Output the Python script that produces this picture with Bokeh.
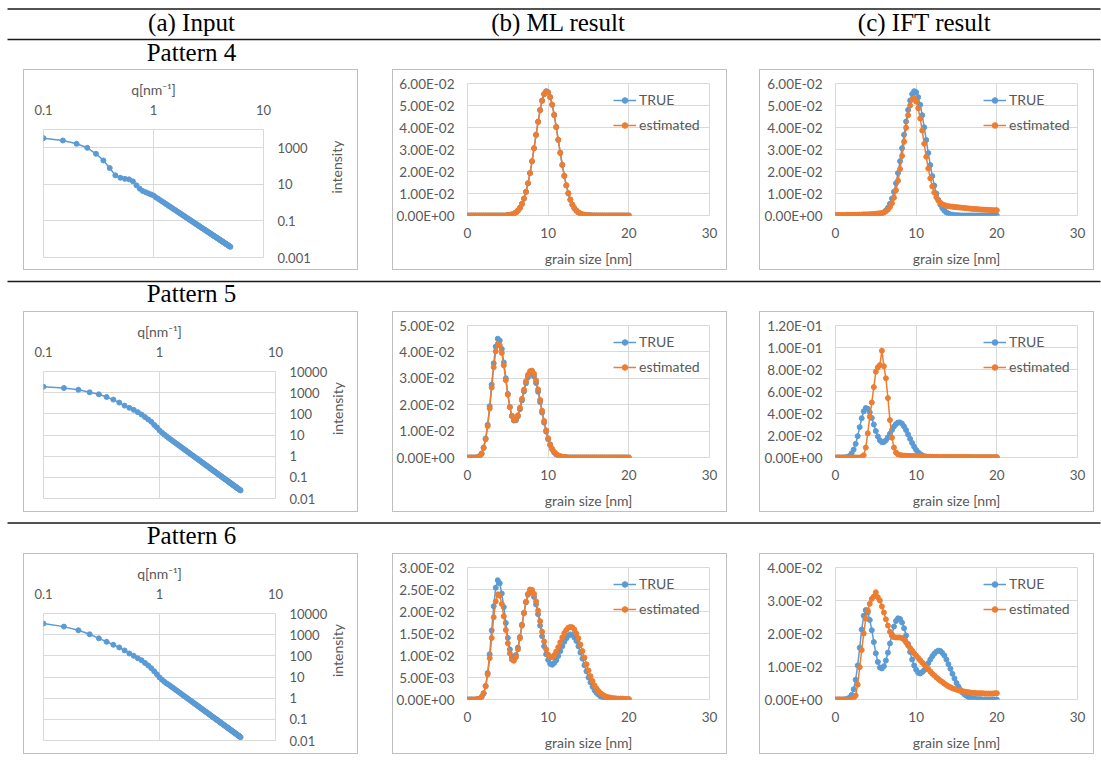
import math
from bokeh.plotting import figure
from bokeh.layouts import column, row
from bokeh.models import (Range1d, FixedTicker, CustomJSTickFormatter, Spacer,
                          Legend, LegendItem)
from bokeh.core.properties import value
from bokeh.embed import file_html
from bokeh.resources import INLINE

# ---------------- data ----------------
COLUMN_TITLES = ["(a) Input", "(b) ML result", "(c) IFT result"]
PATTERN_NAMES = ["Pattern 4", "Pattern 5", "Pattern 6"]
SERIES_NAMES = ["TRUE", "estimated"]

# scattering vector grid q [nm^-1] (0.1 ... 5.0, step 0.05)
Q = [round(0.1 + 0.05 * i, 2) for i in range(99)]
# grain size grid [nm] (0 ... 20, step 0.25)
GRAIN = [0.25 * i for i in range(81)]

Q_TICKS = [0.1, 1, 10]
GRAIN_TICKS = [0, 10, 20, 30]
I_TICKS_4 = [0.001, 0.1, 10, 1000]
I_TICKS_56 = [0.01, 0.1, 1, 10, 100, 1000, 10000]
I_RANGE_4 = (0.001, 10000)
I_RANGE_56 = (0.01, 10000)
D_TICKS_4 = [0, 0.01, 0.02, 0.03, 0.04, 0.05, 0.06]
D_TICKS_5_ML = [0, 0.01, 0.02, 0.03, 0.04, 0.05]
D_TICKS_5_IFT = [0, 0.02, 0.04, 0.06, 0.08, 0.10, 0.12]
D_TICKS_6_ML = [0, 0.005, 0.01, 0.015, 0.02, 0.025, 0.03]
D_TICKS_6_IFT = [0, 0.01, 0.02, 0.03, 0.04]

I4 = [3370, 2510, 1650, 1000, 470, 204, 78, 31, 23, 20, 18.8, 14.6, 8.8, 5.8, 4.3, 3.7, 3.2, 2.8, 2.45,
      1.97, 1.64, 1.37, 1.16, 0.983, 0.840, 0.723, 0.625, 0.543, 0.474,
      0.416, 0.366, 0.324, 0.287, 0.256, 0.229, 0.205, 0.184, 0.166, 0.150,
      0.136, 0.123, 0.112, 0.102, 0.0936, 0.0858, 0.0787, 0.0723, 0.0666, 0.0614,
      0.0568, 0.0525, 0.0487, 0.0452, 0.0420, 0.0390, 0.0364, 0.0339, 0.0317, 0.0296,
      0.0277, 0.0260, 0.0244, 0.0229, 0.0215, 0.0202, 0.0191, 0.0180, 0.0169, 0.0160,
      0.0151, 0.0143, 0.0135, 0.0128, 0.0121, 0.0115, 0.0109, 0.0104, 0.00986, 0.00938,
      0.00892, 0.00849, 0.00809, 0.00771, 0.00736, 0.00702, 0.00670, 0.00640, 0.00612, 0.00585,
      0.00560, 0.00536, 0.00513, 0.00492, 0.00471, 0.00452, 0.00434, 0.00416, 0.00400, 0.00384]

I5 = [1900, 1660, 1380, 1040, 835, 627, 470, 340, 245, 192, 154, 120, 93, 70, 54, 42, 30, 23, 16.5, 13.0, 10.5, 8.7,
      7.23, 6.14, 5.25, 4.52, 3.90, 3.39, 2.96, 2.60, 2.29, 2.02,
      1.80, 1.60, 1.43, 1.28, 1.15, 1.04, 0.938, 0.849, 0.771, 0.702,
      0.640, 0.585, 0.536, 0.492, 0.452, 0.416, 0.384, 0.355, 0.328, 0.304,
      0.282, 0.262, 0.244, 0.227, 0.212, 0.198, 0.185, 0.173, 0.162, 0.152,
      0.143, 0.134, 0.126, 0.119, 0.112, 0.106, 0.100, 0.0944, 0.0893, 0.0845,
      0.0800, 0.0759, 0.0719, 0.0683, 0.0648, 0.0616, 0.0586, 0.0558, 0.0531, 0.0506,
      0.0482, 0.0460, 0.0439, 0.0419, 0.0400, 0.0383, 0.0366, 0.0350, 0.0335, 0.0321,
      0.0307, 0.0295, 0.0283, 0.0271, 0.0260, 0.0250, 0.0240]

I6 = [3330, 2400, 1610, 1040, 670, 463, 333, 250, 180, 129, 100, 77, 62, 46, 35, 26, 18.6, 13.4, 9.6, 7.5, 6.0, 5.0,
      4.34, 3.69, 3.15, 2.71, 2.34, 2.04, 1.78, 1.56, 1.37, 1.21,
      1.08, 0.959, 0.857, 0.768, 0.691, 0.622, 0.563, 0.510, 0.463, 0.421,
      0.384, 0.351, 0.322, 0.295, 0.271, 0.250, 0.230, 0.213, 0.197, 0.183,
      0.169, 0.157, 0.146, 0.136, 0.127, 0.119, 0.111, 0.104, 0.0975, 0.0914,
      0.0858, 0.0807, 0.0759, 0.0715, 0.0673, 0.0635, 0.0600, 0.0567, 0.0536, 0.0507,
      0.0480, 0.0455, 0.0432, 0.0410, 0.0389, 0.0370, 0.0352, 0.0335, 0.0319, 0.0303,
      0.0289, 0.0276, 0.0263, 0.0251, 0.0240, 0.0230, 0.0220, 0.0210, 0.0201, 0.0193,
      0.0184, 0.0177, 0.0170, 0.0163, 0.0156, 0.0150, 0.0144]

TRUE4 = [0.0] * 20 + [
    0.0002, 0.0003, 0.0005, 0.0009, 0.0014, 0.0023, 0.0035, 0.0053, 0.0077, 0.0108,
    0.0147, 0.0193, 0.0247, 0.0306, 0.0367, 0.0427, 0.0480, 0.0523, 0.0552, 0.0565,
    0.0560, 0.0538, 0.0503, 0.0456, 0.0401, 0.0343, 0.0284, 0.0229, 0.0179, 0.0136,
    0.0100, 0.0071, 0.0049, 0.0033, 0.0022, 0.0014, 0.0009, 0.0005, 0.0003, 0.0002,
    0.0001, 0.0001] + [0.0] * 19

ML4 = [0.0] * 20 + [
    0.0002, 0.0003, 0.0005, 0.0008, 0.0013, 0.0022, 0.0034, 0.0052, 0.0076, 0.0107,
    0.0146, 0.0192, 0.0246, 0.0305, 0.0366, 0.0425, 0.0478, 0.0521, 0.0551, 0.0563,
    0.0559, 0.0538, 0.0504, 0.0458, 0.0403, 0.0345, 0.0286, 0.0231, 0.0181, 0.0138,
    0.0102, 0.0073, 0.0050, 0.0034, 0.0022, 0.0014, 0.0009, 0.0005, 0.0003, 0.0002,
    0.0001, 0.0001] + [0.0] * 19

IFT4 = [
    0.0002, 0.0002, 0.0002, 0.0002, 0.0002, 0.0002, 0.0003, 0.0003, 0.0003, 0.0003,
    0.0003, 0.0004, 0.0004, 0.0004, 0.0005, 0.0005, 0.0005, 0.0006, 0.0006, 0.0007,
    0.0008, 0.0009, 0.0010, 0.0011, 0.0014, 0.0019, 0.0027, 0.0039, 0.0056, 0.0081,
    0.0115, 0.0158, 0.0211, 0.0271, 0.0335, 0.0399, 0.0456, 0.0500, 0.0527, 0.0534,
    0.0518, 0.0487, 0.0441, 0.0386, 0.0326, 0.0267, 0.0214, 0.0169, 0.0132, 0.0104,
    0.0083, 0.0068, 0.0058, 0.0051, 0.0047, 0.0044,
    0.0042, 0.0041, 0.0040, 0.0039, 0.0038, 0.0037, 0.0036, 0.0035, 0.0034, 0.0033,
    0.0032, 0.0031, 0.0030, 0.0029, 0.0029, 0.0028, 0.0027, 0.0027, 0.0026, 0.0026,
    0.0025, 0.0025, 0.0024, 0.0024, 0.0024]

TRUE5 = [0.0] * 5 + [
    0.0001, 0.0005, 0.0015, 0.0038, 0.0072, 0.0124, 0.0194, 0.0276, 0.0357, 0.0420,
    0.0450, 0.0443, 0.0411, 0.0360, 0.0300, 0.0241, 0.0191, 0.0157, 0.0140, 0.0141,
    0.0156, 0.0183, 0.0216, 0.0250, 0.0281, 0.0304, 0.0318, 0.0319, 0.0307, 0.0282,
    0.0249, 0.0210, 0.0170, 0.0132, 0.0098, 0.0069, 0.0047, 0.0031, 0.0019, 0.0011,
    0.0007, 0.0004, 0.0002, 0.0001, 0.0001] + [0.0] * 31

ML5 = [0.0] * 5 + [
    0.0001, 0.0005, 0.0014, 0.0036, 0.0069, 0.0119, 0.0186, 0.0265, 0.0342, 0.0402,
    0.0430, 0.0425, 0.0396, 0.0349, 0.0293, 0.0238, 0.0191, 0.0158, 0.0142, 0.0144,
    0.0160, 0.0188, 0.0222, 0.0257, 0.0289, 0.0313, 0.0327, 0.0329, 0.0317, 0.0292,
    0.0258, 0.0218, 0.0177, 0.0138, 0.0103, 0.0073, 0.0050, 0.0033, 0.0021, 0.0013,
    0.0008, 0.0005, 0.0003, 0.0002, 0.0001] + [0.0] * 31

IFT5 = [0.0] * 13 + [
    0.0005, 0.0020, 0.0090, 0.0220, 0.0370, 0.0500, 0.0640, 0.0780, 0.0820, 0.0840,
    0.0970, 0.0830, 0.0720, 0.0540, 0.0340, 0.0180, 0.0090, 0.0045, 0.0028, 0.0022,
    0.0019, 0.0017, 0.0016, 0.0015, 0.0014, 0.0013, 0.0013, 0.0012, 0.0011, 0.0010,
    0.0009, 0.0008, 0.0008, 0.0007, 0.0007, 0.0006,
    0.0006, 0.0006, 0.0005, 0.0005, 0.0005, 0.0005, 0.0005, 0.0005, 0.0004, 0.0004,
    0.0004, 0.0004, 0.0004, 0.0004, 0.0004, 0.0004, 0.0004, 0.0004, 0.0003, 0.0003,
    0.0003, 0.0003, 0.0003, 0.0003, 0.0003, 0.0003, 0.0003, 0.0003, 0.0003, 0.0003,
    0.0003, 0.0003]

TRUE6 = [0.0] * 5 + [
    0.0001, 0.0002, 0.0006, 0.0014, 0.0031, 0.0060, 0.0103, 0.0157, 0.0212, 0.0254,
    0.0271, 0.0264, 0.0241, 0.0210, 0.0174, 0.0140, 0.0114, 0.0097, 0.0094, 0.0101,
    0.0118, 0.0142, 0.0170, 0.0197, 0.0221, 0.0238, 0.0246, 0.0244, 0.0233, 0.0216,
    0.0194, 0.0168, 0.0144, 0.0121, 0.0103, 0.0090, 0.0081, 0.0079, 0.0083, 0.0089,
    0.0099, 0.0110, 0.0121, 0.0131, 0.0139, 0.0145, 0.0148, 0.0147, 0.0141, 0.0133,
    0.0121, 0.0107, 0.0093, 0.0078, 0.0064, 0.0050, 0.0039, 0.0029, 0.0021, 0.0015,
    0.0011, 0.0007, 0.0005, 0.0003, 0.0002, 0.0001, 0.0001, 0.0001] + [0.0] * 8

ML6 = [0.0] * 5 + [
    0.0001, 0.0002, 0.0006, 0.0014, 0.0030, 0.0057, 0.0094, 0.0140, 0.0187, 0.0223,
    0.0239, 0.0236, 0.0217, 0.0189, 0.0158, 0.0128, 0.0105, 0.0091, 0.0088, 0.0096,
    0.0114, 0.0139, 0.0168, 0.0196, 0.0222, 0.0240, 0.0250, 0.0249, 0.0240, 0.0223,
    0.0202, 0.0178, 0.0154, 0.0132, 0.0114, 0.0102, 0.0096, 0.0096, 0.0101, 0.0109,
    0.0119, 0.0130, 0.0141, 0.0151, 0.0158, 0.0163, 0.0165, 0.0164, 0.0159, 0.0150,
    0.0139, 0.0125, 0.0110, 0.0095, 0.0080, 0.0066, 0.0053, 0.0042, 0.0032, 0.0025,
    0.0019, 0.0014, 0.0011, 0.0008, 0.0006, 0.0005, 0.0004, 0.0003,
    0.0003, 0.0002, 0.0002, 0.0002, 0.0002, 0.0001, 0.0001, 0.0001]

IFT6 = [0.0] * 9 + [
    0.0003, 0.0012, 0.0045, 0.0098, 0.0150, 0.0200, 0.0245, 0.0270, 0.0290, 0.0305,
    0.0312, 0.0325, 0.0310, 0.0300, 0.0282, 0.0264, 0.0243, 0.0224, 0.0205, 0.0193,
    0.0189, 0.0188, 0.0188, 0.0188, 0.0186, 0.0181, 0.0173, 0.0164, 0.0156, 0.0148,
    0.0140, 0.0133, 0.0126, 0.0119, 0.0112, 0.0106, 0.0099, 0.0092, 0.0085, 0.0078,
    0.0073, 0.0067, 0.0062, 0.0057, 0.0053, 0.0048, 0.0044, 0.0040, 0.0037, 0.0034,
    0.0032, 0.0030, 0.0028, 0.0026, 0.0025, 0.0024, 0.0023, 0.0022, 0.0021, 0.0020,
    0.0020, 0.0019, 0.0019, 0.0019, 0.0019, 0.0018, 0.0018, 0.0018, 0.0018, 0.0018,
    0.0019, 0.0019]

# ---------------- style ----------------
BLUE = "#5B9BD5"
ORANGE = "#ED7D31"
GRID = "#D9D9D9"
TXT = "#595959"
BOXC = "#BFBFBF"
RULE = "#1a1a1a"
FONT = "Lato"
SERIF = "Liberation Serif"
PAGE_W = 1101
MARK = 5

EXP_FMT = """
const s = tick.toExponential(2);
const parts = s.split('e');
const n = parseInt(parts[1]);
const a = Math.abs(n);
return parts[0] + 'E' + (n < 0 ? '-' : '+') + (a < 10 ? '0' : '') + a;
"""
PLAIN_FMT = "return String(tick);"


def unalign(p):
    if "frame_align" in p.properties():
        p.frame_align = False


def style_axes(p, tick_size):
    p.border_fill_color = None
    p.background_fill_color = None
    p.outline_line_color = GRID
    p.grid.grid_line_color = GRID
    for ax in p.axis:
        ax.axis_line_color = None
        ax.major_tick_line_color = None
        ax.minor_tick_line_color = None
        ax.major_tick_out = 0
        ax.major_label_text_font = FONT
        ax.major_label_text_font_size = tick_size
        ax.major_label_text_color = TXT
        ax.axis_label_text_font = FONT
        ax.axis_label_text_font_size = "14px"
        ax.axis_label_text_color = TXT
        ax.axis_label_text_font_style = "normal"
    p.styles = {"box-shadow": "inset 0 0 0 1px " + BOXC}
    unalign(p)


def intensity_chart(vals, yrange, yticks, border_right, border_bottom, title_standoff):
    p = figure(width=335, height=201, x_axis_type="log", y_axis_type="log",
               x_range=Range1d(Q_TICKS[0], Q_TICKS[-1]), y_range=Range1d(*yrange),
               x_axis_location="above", y_axis_location="right",
               toolbar_location=None, output_backend="svg",
               min_border_left=20, min_border_right=border_right,
               min_border_top=60, min_border_bottom=border_bottom)
    p.xaxis.ticker = FixedTicker(ticks=Q_TICKS)
    p.xgrid.ticker = FixedTicker(ticks=Q_TICKS)
    p.yaxis.ticker = FixedTicker(ticks=yticks)
    p.ygrid.ticker = FixedTicker(ticks=yticks)
    p.xaxis.formatter = CustomJSTickFormatter(code=PLAIN_FMT)
    p.yaxis.formatter = CustomJSTickFormatter(code=PLAIN_FMT)
    p.xaxis.axis_label = "q[nm\u207b\u00b9]"
    p.yaxis.axis_label = "intensity"
    style_axes(p, "13px")
    p.xaxis.major_label_standoff = 15
    p.xaxis.axis_label_standoff = 4
    p.yaxis.major_label_standoff = 14
    p.yaxis.axis_label_standoff = title_standoff
    yax = p.yaxis[0]
    if "axis_label_orientation" in yax.properties():
        yax.axis_label_orientation = math.pi / 2
    p.line(Q, vals, line_color=BLUE, line_width=1.5)
    p.scatter(Q, vals, size=MARK, fill_color=BLUE, line_color=BLUE)
    return p


def dist_chart(true_vals, est_vals, yticks, border_left, border_right, legend_x):
    p = figure(width=335, height=201,
               x_range=Range1d(GRAIN_TICKS[0], GRAIN_TICKS[-1]),
               y_range=Range1d(yticks[0], yticks[-1]),
               toolbar_location=None, output_backend="svg",
               min_border_left=border_left, min_border_right=border_right,
               min_border_top=14, min_border_bottom=55)
    p.xaxis.ticker = FixedTicker(ticks=GRAIN_TICKS)
    p.xgrid.ticker = FixedTicker(ticks=GRAIN_TICKS)
    p.yaxis.ticker = FixedTicker(ticks=yticks)
    p.ygrid.ticker = FixedTicker(ticks=yticks)
    p.yaxis.formatter = CustomJSTickFormatter(code=EXP_FMT)
    p.xaxis.axis_label = "grain size [nm]"
    style_axes(p, "13.5px")
    p.xaxis.major_label_standoff = 12
    p.xaxis.axis_label_standoff = 9
    p.yaxis.major_label_standoff = 13
    r1 = p.line(GRAIN, true_vals, line_color=BLUE, line_width=1.5)
    r2 = p.scatter(GRAIN, true_vals, size=MARK, fill_color=BLUE, line_color=BLUE)
    r3 = p.line(GRAIN, est_vals, line_color=ORANGE, line_width=1.5)
    r4 = p.scatter(GRAIN, est_vals, size=MARK, fill_color=ORANGE, line_color=ORANGE)
    leg = Legend(items=[LegendItem(label=SERIES_NAMES[0], renderers=[r1, r2]),
                        LegendItem(label=SERIES_NAMES[1], renderers=[r3, r4])],
                 location=(legend_x, 82), orientation="vertical",
                 padding=0, margin=0, spacing=8, glyph_width=23, glyph_height=14,
                 label_height=14, label_standoff=3,
                 label_text_font=FONT, label_text_font_size="14px", label_text_color=TXT,
                 border_line_color=None, background_fill_alpha=0)
    p.add_layout(leg)
    return p


def band(height, rules, texts):
    p = figure(width=PAGE_W, height=height, x_range=Range1d(0, PAGE_W), y_range=Range1d(height, 0),
               x_axis_location=None, y_axis_location=None, toolbar_location=None,
               output_backend="svg", min_border=0)
    p.grid.visible = False
    p.outline_line_color = None
    p.border_fill_color = None
    p.background_fill_color = None
    unalign(p)
    p.segment(x0=[7] * len(rules), x1=[1100] * len(rules), y0=[r[0] for r in rules],
              y1=[r[0] for r in rules], line_color=RULE, line_width=[r[1] for r in rules])
    p.text(x=[t[0] for t in texts], y=[t[1] for t in texts], text=[t[2] for t in texts],
           text_font=value(SERIF), text_font_size="25px", text_color="black",
           text_align="center", text_baseline="middle")
    return p


COL_X = [191, 558, 924]

head = band(69, [(8.5, 1.3), (39, 1.3)],
            [(COL_X[0], 22, COLUMN_TITLES[0]), (COL_X[1], 22, COLUMN_TITLES[1]),
             (COL_X[2], 22, COLUMN_TITLES[2]), (COL_X[0], 51.6, PATTERN_NAMES[0])])
band5 = band(41, [(11, 1.3)], [(COL_X[0], 23.3, PATTERN_NAMES[1])])
band6 = band(41, [(10.5, 1.3)], [(COL_X[0], 22.9, PATTERN_NAMES[2])])


def chart_row(left, mid, right):
    return row(Spacer(width=23, height=201), left, Spacer(width=34, height=201), mid,
               Spacer(width=32, height=201), right)


row4 = chart_row(intensity_chart(I4, I_RANGE_4, I_TICKS_4, 95, 13, 23),
                 dist_chart(TRUE4, ML4, D_TICKS_4, 75, 18, 146),
                 dist_chart(TRUE4, IFT4, D_TICKS_4, 76, 17, 148))
row5 = chart_row(intensity_chart(I5, I_RANGE_56, I_TICKS_56, 83, 14, 7),
                 dist_chart(TRUE5, ML5, D_TICKS_5_ML, 75, 18, 146),
                 dist_chart(TRUE5, IFT5, D_TICKS_5_IFT, 76, 17, 148))
row6 = chart_row(intensity_chart(I6, I_RANGE_56, I_TICKS_56, 83, 14, 7),
                 dist_chart(TRUE6, ML6, D_TICKS_6_ML, 75, 18, 146),
                 dist_chart(TRUE6, IFT6, D_TICKS_6_IFT, 76, 17, 148))

layout = column(head, row4, band5, row5, band6, row6)

open("out.html", "w").write(file_html(layout, INLINE))
